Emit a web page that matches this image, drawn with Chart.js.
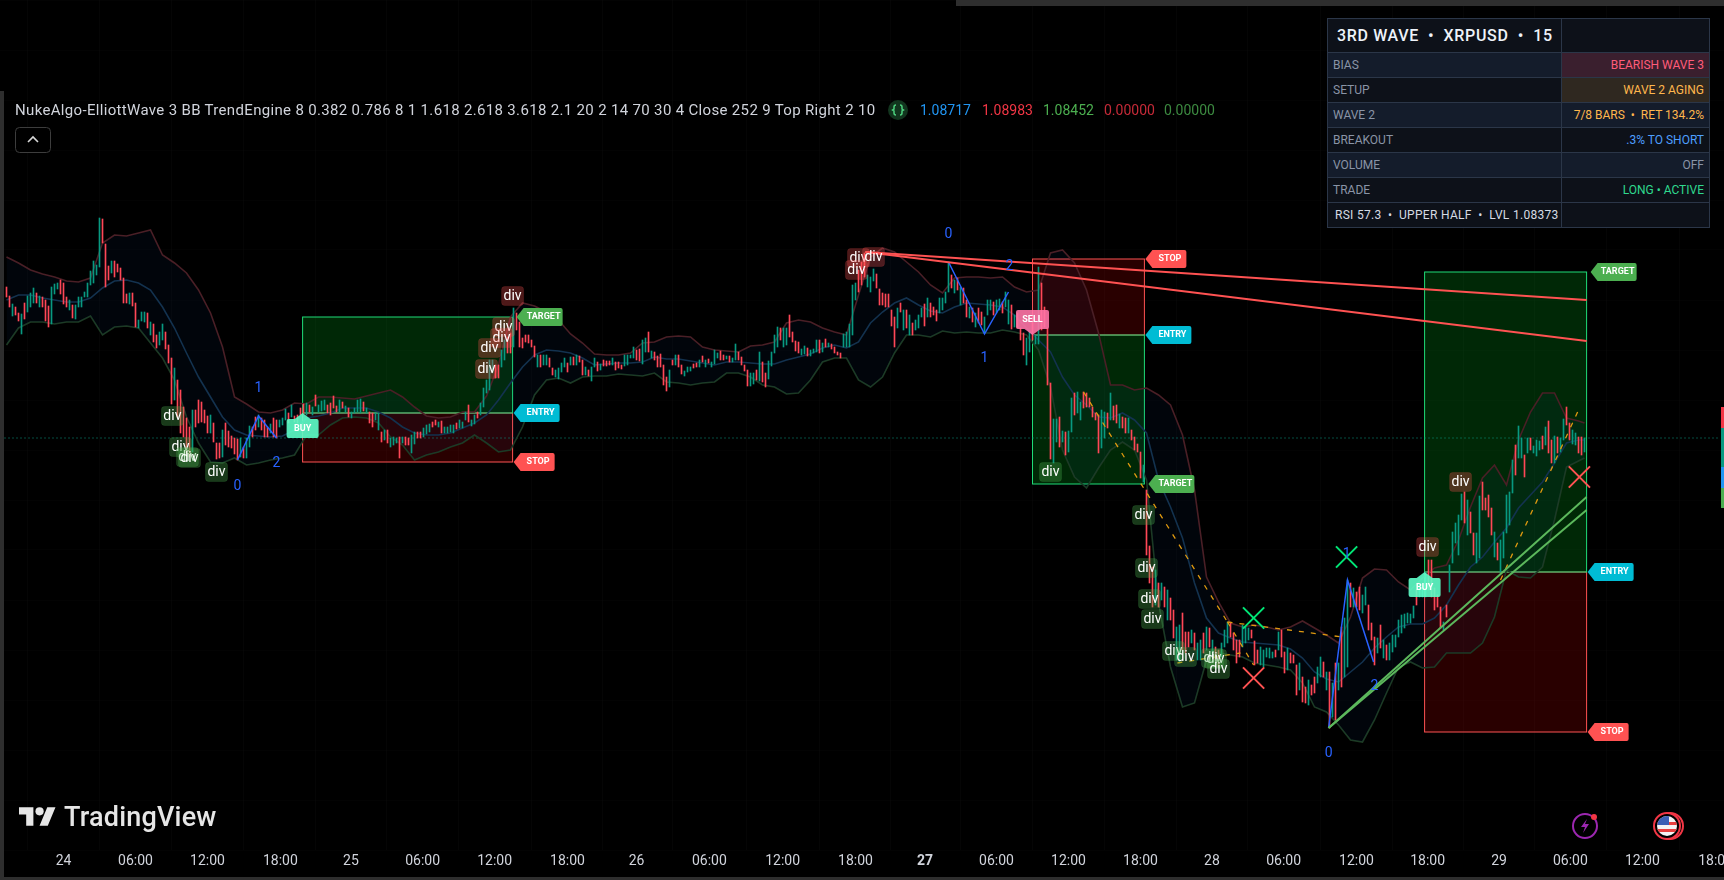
<!DOCTYPE html>
<html>
<head>
<meta charset="utf-8">
<title>XRPUSD 15</title>
<script src="https://cdn.jsdelivr.net/npm/chart.js@4"></script>
<style>
    html, body { margin: 0; padding: 0; background: #000; overflow: hidden; }
    body { width: 1724px; height: 880px; position: relative; font-family: Roboto, sans-serif; color: #d1d4dc; }
    canvas { position: absolute; left: 0; top: 0; }
    .abs { position: absolute; white-space: pre; }
    .strip { position: absolute; background: #2e2e2e; }
    .quote { position: absolute; top: 101px; font-size: 14px; line-height: 18px; }
    #panel { position: absolute; left: 1327px; top: 18px; width: 382px; border-collapse: collapse; table-layout: fixed; font-size: 12px; background: #0d1119; }
    #panel td { border: 1px solid #2b3648; padding: 0 5px; white-space: pre; overflow: hidden; height: 24px; color: #8a94a6; }
    #panel td.val { text-align: right; }
    #panel tr.alt td { background: #141c2b; }
    #panel tr.head td { height: 33px; font-size: 16px; font-weight: 500; color: #eef3fa; padding-left: 9px; letter-spacing: .65px; }
    #panel tr.foot td { color: #d6dbe4; padding-left: 7px; letter-spacing: .3px; }
</style>
</head>
<body>
<canvas id="chart" width="1724" height="880" style="width:1724px;height:880px"></canvas>

<div class="strip" style="left:956px;top:0;width:768px;height:6px"></div>
<div class="strip" style="left:0;top:91px;width:4px;height:789px"></div>
<div class="strip" style="left:0;top:877px;width:1724px;height:3px"></div>

<div class="abs" style="left:15px;top:100px;font-size:15px;line-height:20px;letter-spacing:.33px">NukeAlgo-ElliottWave 3 BB TrendEngine 8 0.382 0.786 8 1 1.618 2.618 3.618 2.1 20 2 14 70 30 4 Close 252 9 Top Right 2 10</div>
<svg class="abs" style="left:887px;top:99px" width="22" height="22" viewBox="0 0 22 22">
    <circle cx="11" cy="11" r="10" fill="#12351e"/>
    <path d="M9 6 Q7 6 7 8 V10 L5.5 11 L7 12 V14 Q7 16 9 16 M13 6 Q15 6 15 8 V10 L16.5 11 L15 12 V14 Q15 16 13 16" fill="none" stroke="#4cd07d" stroke-width="1.5"/>
</svg>
<div class="quote" style="left:920px;color:#2196f3">1.08717</div>
<div class="quote" style="left:982px;color:#f23645">1.08983</div>
<div class="quote" style="left:1043px;color:#4caf50">1.08452</div>
<div class="quote" style="left:1104px;color:#c62a38">0.00000</div>
<div class="quote" style="left:1164px;color:#3c8a40">0.00000</div>
<svg class="abs" style="left:15px;top:127px" width="36" height="26" viewBox="0 0 36 26">
    <rect x="0.5" y="0.5" width="35" height="25" rx="4" fill="#000" stroke="#3d3d3d"/>
    <path d="M13 15 L18 10 L23 15" fill="none" stroke="#d8d8d8" stroke-width="1.6"/>
</svg>

<table id="panel">
    <colgroup><col style="width:234px"><col style="width:148px"></colgroup>
    <tr class="head"><td>3RD WAVE  •  XRPUSD  •  15</td><td></td></tr>
    <tr class="alt"><td>BIAS</td><td class="val" style="background:#3a1f2e;color:#ff5c7a">BEARISH WAVE 3</td></tr>
    <tr><td>SETUP</td><td class="val" style="background:#2f2820;color:#ffb74d">WAVE 2 AGING</td></tr>
    <tr class="alt"><td>WAVE 2</td><td class="val" style="color:#ffb74d;padding-left:0">7/8 BARS  •  RET 134.2%</td></tr>
    <tr><td>BREAKOUT</td><td class="val" style="color:#4d9fff">.3% TO SHORT</td></tr>
    <tr class="alt"><td>VOLUME</td><td class="val">OFF</td></tr>
    <tr><td>TRADE</td><td class="val" style="color:#2fd98f">LONG • ACTIVE</td></tr>
    <tr class="foot"><td>RSI 57.3  •  UPPER HALF  •  LVL 1.08373</td><td></td></tr>
</table>

<svg class="abs" style="left:19px;top:807px" width="37" height="19" viewBox="0 4 36 18">
    <path d="M14 22H7V11H0V4h14v18z M28 22h-8l7.5-18h8L28 22z" fill="#e6e6e6"/>
    <circle cx="20" cy="8" r="4" fill="#e6e6e6"/>
</svg>
<div class="abs" style="left:64px;top:800px;font-size:27px;line-height:34px;font-weight:500;color:#e6e6e6;letter-spacing:.2px">TradingView</div>

<svg class="abs" style="left:1570px;top:811px" width="30" height="30" viewBox="0 0 30 30">
    <circle cx="15" cy="15" r="12" fill="none" stroke="#9c27b0" stroke-width="2"/>
    <path d="M17 8 L11 16 H15 L13 22 L19 13 H15 Z" fill="#9c27b0"/>
    <circle cx="24" cy="6" r="3" fill="#f23645"/>
</svg>
<svg class="abs" style="left:1652px;top:811px" width="34" height="30" viewBox="0 0 34 30">
    <circle cx="18" cy="15" r="13" fill="none" stroke="#f23645" stroke-width="2"/>
    <circle cx="15" cy="15" r="13" fill="#000" stroke="#f23645" stroke-width="2"/>
    <clipPath id="flag"><circle cx="15" cy="15" r="10"/></clipPath>
    <g clip-path="url(#flag)">
        <rect x="4" y="4" width="22" height="22" fill="#f4f4f4"/>
        <rect x="4" y="11" width="22" height="3" fill="#e8403f"/>
        <rect x="4" y="18" width="22" height="3" fill="#e8403f"/>
        <rect x="4" y="4" width="13" height="10" fill="#3a5fb5"/>
    </g>
</svg>

<div class="strip" style="left:1721px;top:407px;width:3px;height:21px;background:#f23645"></div>
<div class="strip" style="left:1721px;top:428px;width:3px;height:39px;background:#089981"></div>
<div class="strip" style="left:1721px;top:467px;width:3px;height:21px;background:#2196f3"></div>
<div class="strip" style="left:1721px;top:488px;width:3px;height:20px;background:#4caf50"></div>

<script>
// Price values are in points. x values are 15 minute bar numbers.
const tickBars = [19, 43, 67, 91.3, 114.8, 138.7, 162.7, 187, 210, 234.3, 258.7, 283, 306.2, 330, 354, 378, 401.8, 425.7, 450, 473.7, 497.5, 521.3, 545.3, 569.7];
const tickLabels = ['24', '06:00', '12:00', '18:00', '25', '06:00', '12:00', '18:00', '26', '06:00', '12:00', '18:00', '27', '06:00', '12:00', '18:00', '28', '06:00', '12:00', '18:00', '29', '06:00', '12:00', '18:00'];

const candleHigh = [
    713,704,696,693,687,686,697,704,707,712,707,704,703,700,694,713,716,717,720,717,703,700,695,695,703,703,708,717,729,739,735,782,781,756,734,739,739,736,732,722,706,707,707,697,680,688,688,687,678,676,665,668,676,668,655,642,632,620,610,593,582,573,590,590,600,598,590,584,585,577,557,557,570,577,569,564,562,561,562,553,562,574,573,583,585,582,580,573,576,582,580,580,582,591,587,595,584,585,
    592,596,597,595,593,605,595,599,600,595,597,604,594,600,598,594,592,588,592,600,601,598,592,588,587,587,587,568,570,570,562,563,562,563,563,563,562,565,568,568,568,572,575,576,578,580,578,579,573,573,575,575,577,580,578,588,595,580,585,588,597,612,620,640,640,635,635,650,660,663,667,692,687,678,662,665,665,660,654,645,645,645,645,642,632,630,632,637,642,637,643,643,645,644,640,633,630,
    633,642,638,636,640,639,639,642,638,638,635,645,645,645,653,650,651,660,662,668,649,648,644,646,635,623,630,640,645,645,635,629,633,633,636,637,640,644,640,641,638,650,647,649,645,644,644,642,656,648,643,635,630,627,627,630,648,638,627,639,648,665,673,672,672,672,685,668,659,658,651,654,652,650,651,660,660,657,661,657,656,653,648,647,
    666,668,676,715,717,730,738,747,725,723,731,726,711,707,706,706,690,683,692,697,690,690,685,677,680,685,692,696,702,697,693,690,702,702,708,738,725,720,722,713,712,700,693,692,687,692,688,683,700,700,698,700,701,698,708,700,695,685,687,672,667,662,668,677,665,733,717,693,672,617,581,581,583,569,568,569,602,607,608,598,608,607,602,593,587,585,590,588,587,607,594,595,586,583,582,582,570,563,556,548,535,
    510,454,433,430,417,417,413,410,402,390,373,375,387,368,368,370,367,357,360,367,373,372,360,353,350,357,370,378,377,367,360,360,375,373,372,370,359,350,353,350,352,352,348,350,368,370,348,352,347,345,335,337,323,313,320,315,323,333,343,338,328,328,317,337,337,373,382,420,417,412,408,413,405,413,395,377,363,362,375,360,355,357,365,365,380,385,386,387,386,394,410,413,413,428,440,440,412,405,393,378,395,
    435,468,477,485,506,508,500,488,467,467,504,518,502,505,492,468,457,460,468,505,508,540,555,574,562,545,562,562,554,560,559,564,573,579,560,564,563,562,581,593,577,570,567,563,563,562
];
const candleLow = [
    703,693,684,685,679,666,681,688,693,697,697,693,693,679,673,676,706,711,706,696,693,690,682,681,693,693,703,703,715,717,725,733,757,713,720,727,723,728,720,697,697,696,694,673,672,679,678,672,665,658,652,655,660,651,637,596,600,583,567,563,547,543,548,573,577,578,577,567,567,558,541,542,543,555,553,552,546,540,543,542,542,553,563,570,573,570,563,563,567,563,562,573,575,580,577,583,578,577,
    585,587,585,588,585,594,588,589,590,587,585,592,588,588,592,588,583,582,587,588,587,589,587,577,573,580,570,558,560,557,553,555,557,542,557,555,555,547,556,562,562,563,566,568,573,575,573,567,567,567,568,567,571,572,572,580,578,574,576,582,585,593,607,610,627,622,622,633,640,647,647,653,670,653,652,658,657,653,643,633,633,635,635,633,625,623,621,628,633,628,635,635,635,638,625,625,624,
    619,633,629,630,634,634,635,635,630,632,631,634,635,642,642,640,639,636,648,648,642,640,633,633,615,609,613,635,635,633,626,624,628,629,632,633,633,638,633,637,633,636,642,640,640,641,638,638,640,640,635,629,614,614,616,620,619,618,613,621,634,647,653,660,653,655,663,658,649,647,645,646,644,644,647,648,647,648,653,653,651,647,645,642,
    653,653,653,665,700,708,715,723,713,708,719,712,695,695,693,693,674,653,672,688,670,672,665,665,670,672,683,674,683,683,685,679,687,690,697,708,712,707,710,695,697,683,682,678,673,677,675,667,685,690,685,687,690,687,693,676,671,673,672,660,645,635,648,660,656,656,670,673,615,541,537,558,553,558,545,548,568,585,587,580,592,593,593,583,580,547,552,562,572,580,580,577,572,572,567,567,560,550,548,522,518,
    445,417,393,395,393,400,393,380,380,362,340,337,350,347,353,357,350,340,340,347,350,353,343,340,333,343,353,357,363,350,337,343,353,357,360,362,335,337,335,333,343,342,342,343,350,343,327,330,337,337,305,310,298,297,295,305,307,317,323,323,310,272,283,280,310,313,323,333,393,393,393,390,387,395,370,360,335,347,352,342,340,340,348,353,363,367,372,377,377,382,395,403,403,403,410,403,390,393,372,370,383,
    408,437,457,445,480,477,465,467,445,437,442,490,490,483,465,443,440,428,442,467,475,507,525,542,542,523,547,550,547,544,550,551,555,547,537,537,547,548,560,575,560,556,555,547,545,548
];
// u = up bar, d = down bar
const candleDir = [
    'ddudduduuu', 'duddduuudd', 'duduuuuuuu', 'uudddudddd', 'dudduuudud', 'duuddduddd', 'ddudddddud', 'ddudddddud', 'uuddudddud', 'duuududd',
    'ddududuuud', 'dddududuuu', 'ududduudud', 'uuududduud', 'duuudduduu', 'uuduuuduud', 'uuuuudduud', 'dudddddddu', 'duudduuuud', 'ududdud',
    'uududddudd', 'duuuudduud', 'udddddudud', 'duuuddudud', 'uuudduduud', 'ddduududdu', 'uuuduudddd', 'uuduuududu', 'dddd',
    'uuuuuddduu', 'udddddddud', 'ududuuudud', 'dduuuududu', 'ddududduuu', 'duuduududd', 'duuduudddd', 'uududuuduu', 'dddddduudu', 'dduddudddd', 'u',
    'dddudududd', 'uuddduduud', 'ududduuudd', 'dduuuddduu', 'uuududdudd', 'duddudduud', 'udududuudu', 'dduuddd', 'udu', 'duuuuuuuuu', 'duuudddddu', 'd',
    'uuuuududdu', 'udddduduuu', 'uuduududuu', 'ududduduud', 'duuddu'
].join('');

// Bollinger bands, one value every 4 bars
const bbUpper = [
    743,737,730,726,723,719,718,722,757,765,764,767,770,745,737,727,710,687,653,603,596,588,587,590,597,
    596,603,603,602,601,604,607,610,603,593,584,582,583,588,588,604,635,683,697,694,688,680,666,657,
    646,645,645,647,657,658,663,664,663,653,650,649,648,654,655,658,677,680,678,672,668,
    665,705,743,752,748,738,728,715,707,722,723,723,722,723,713,708,710,747,750,737,710,667,615,615,610,612,
    605,595,565,510,423,398,377,373,375,373,370,373,379,372,365,357,383,422,431,430,418,410,422,432,435,
    460,493,522,535,515,560,588,607,607,582,579,577
];
const bbBasis = [
    700,705,705,702,700,698,698,702,712,719,720,717,710,693,672,647,623,603,583,570,565,564,563,564,570,
    582,584,587,592,592,592,588,582,573,567,565,565,567,572,577,585,600,617,633,645,650,649,647,642,
    635,636,637,637,638,643,641,641,639,637,635,638,638,637,636,636,640,643,646,652,655,
    652,658,677,688,697,702,695,689,687,693,697,696,695,693,685,672,660,648,623,605,595,583,582,587,580,567,
    520,493,462,417,382,367,362,358,357,356,355,351,342,328,321,318,328,338,352,363,373,376,376,382,395,
    415,433,443,458,472,492,505,518,537,557,560,560
];
const bbLower = [
    655,672,678,678,676,678,678,684,665,673,674,672,657,642,620,583,557,538,537,542,535,537,540,542,545,
    565,565,575,582,583,582,577,563,555,540,545,548,553,557,565,557,548,550,573,605,620,622,617,623,
    624,624,626,625,624,627,618,617,615,617,618,627,627,623,615,613,606,607,620,638,642,
    642,620,613,623,647,665,665,663,669,667,668,667,667,670,668,665,650,613,550,523,512,532,550,558,550,520,
    397,333,293,297,340,347,345,343,337,335,333,330,317,293,288,275,260,258,280,307,333,338,332,333,347,
    347,347,357,383,430,423,422,433,480,533,539,542
];

const lastPrice = 562;

// Trade boxes: left and right bar, target, entry and stop
const boxLeft = [98.7, 342, 472.7];
const boxRight = [168.7, 379.3, 526.7];
const boxTarget = [683, 516, 728];
const boxEntry = [587, 665, 428];
const boxStop = [538, 741, 268];
const boxSignal = ['BUY', 'SELL', 'BUY'];

// div markers
const divBars = [55.3, 58, 60.3, 61, 70, 168.7, 165.7, 165, 161, 160, 284, 289, 283.3, 348, 379, 380, 381, 382, 389, 393, 402, 403, 404, 473.7, 484.7];
const divPrices = [584, 553, 543, 542, 528, 704, 673, 662, 652, 631, 742, 743, 730, 528, 485, 432, 401, 381, 349, 343, 342, 341, 331, 453, 518];
const divBear = [0, 0, 0, 0, 0, 1, 1, 1, 1, 1, 1, 1, 1, 0, 0, 0, 0, 0, 0, 0, 0, 0, 0, 1, 1];

// Wave swings and their numbers
const waveBars = [[77, 84, 90], [314, 326, 334], [440.7, 447, 455.7]];
const wavePrices = [[540, 584, 562], [738, 666, 708], [272, 420, 338]];
const waveNumberBars = [77, 84, 90, 314, 326, 334.3, 440.7, 446.7, 456];
const waveNumberPrices = [514, 612, 537, 766, 642, 734, 247, 446, 314];
const waveNumbers = ['0', '1', '2', '0', '1', '2', '0', '1', '2'];

// Trend lines
const redLineBars = [286.3, 526.7];
const redLineA = [748, 700];
const redLineB = [748, 659];
const greenLineBars = [440.7, 526.7];
const greenLineA = [272, 503];
const greenLineB = [272, 490];

// Dashed projections
const dashBars = [[359, 407], [407, 445.3], [407, 415.7], [390.3, 411.3], [498, 523.7]];
const dashPrices = [[608, 378], [378, 363], [378, 335], [337, 347], [420, 588]];

// X marks
const greenCrossBars = [415.7, 446.7];
const greenCrossPrices = [382, 443];
const redCrossBars = [415.7, 524.3];
const redCrossPrices = [322, 523];

function pairs(xs, ys) {
    return xs.map((x, i) => ({ x: x, y: ys[i] }));
}

function lineSet(points, color, width, extra) {
    return Object.assign({
        type: 'line',
        data: points,
        borderColor: color,
        borderWidth: width,
        pointRadius: 0,
        tension: 0,
        fill: false,
        order: 1
    }, extra || {});
}

const lastBar = candleHigh.length - 1;
const bandPoints = values => values.map((y, m) => ({ x: Math.min(m * 4, lastBar), y: y }));

const datasets = [
    {
        type: 'bar',
        data: candleHigh.map((h, i) => ({ x: i, y: [candleLow[i], h] })),
        backgroundColor: candleHigh.map((h, i) => candleDir[i] === 'u' ? '#089981' : '#ff4757'),
        barThickness: 1,
        order: 3
    },
    lineSet(bandPoints(bbUpper), '#4a1f26', 1.6, { fill: '+1', backgroundColor: 'rgba(20,90,220,0.05)', order: 5 }),
    lineSet(bandPoints(bbLower), '#1d3a22', 1.6, { order: 5 }),
    lineSet(bandPoints(bbBasis), '#13324f', 1.6, { order: 4 }),
    lineSet(pairs([-2, 571], [lastPrice, lastPrice]), '#089981', 1, { borderDash: [1, 3], order: 6 }),
    lineSet(pairs(redLineBars, redLineA), '#ff5252', 2),
    lineSet(pairs(redLineBars, redLineB), '#ff5252', 2),
    lineSet(pairs(greenLineBars, greenLineA), '#5cb85c', 2),
    lineSet(pairs(greenLineBars, greenLineB), '#5cb85c', 2)
];

waveBars.forEach((bars, i) => {
    datasets.push(lineSet(pairs(bars, wavePrices[i]), '#2962ff', 1.5, { order: 2 }));
});
dashBars.forEach((bars, i) => {
    datasets.push(lineSet(pairs(bars, dashPrices[i]), '#e09a10', 1.3, { borderDash: [5, 7], order: 2 }));
});

[[greenCrossBars, greenCrossPrices, '#00e676'], [redCrossBars, redCrossPrices, '#ff5252']].forEach(mark => {
    datasets.push({
        type: 'scatter',
        data: pairs(mark[0], mark[1]),
        pointStyle: 'crossRot',
        pointRadius: 15,
        pointBorderColor: mark[2],
        pointBorderWidth: 2,
        pointBackgroundColor: 'transparent',
        order: 1
    });
});

function roundedRect(ctx, x, y, w, h, r) {
    ctx.beginPath();
    ctx.roundRect(x, y, w, h, r);
}

// Price tag with a point on its left side
function drawTag(ctx, tipX, y, width, color, text) {
    const h = 18;
    ctx.fillStyle = color;
    ctx.beginPath();
    ctx.moveTo(tipX, y);
    ctx.lineTo(tipX + 7, y - h / 2);
    ctx.lineTo(tipX + width - 2, y - h / 2);
    ctx.quadraticCurveTo(tipX + width, y - h / 2, tipX + width, y - h / 2 + 2);
    ctx.lineTo(tipX + width, y + h / 2 - 2);
    ctx.quadraticCurveTo(tipX + width, y + h / 2, tipX + width - 2, y + h / 2);
    ctx.lineTo(tipX + 7, y + h / 2);
    ctx.closePath();
    ctx.fill();
    ctx.fillStyle = '#fff';
    ctx.font = 'bold 9px Roboto';
    ctx.textAlign = 'center';
    ctx.textBaseline = 'middle';
    ctx.fillText(text, tipX + 4 + width / 2, y);
}

// BUY or SELL flag pointing at the entry level
function drawSignal(ctx, x0, yEntry, signal) {
    const isBuy = signal === 'BUY';
    const dir = isBuy ? 1 : -1;
    const flagW = isBuy ? 32 : 33;
    ctx.globalAlpha = 0.9;
    ctx.fillStyle = isBuy ? '#5dffc9' : '#ff74a6';
    ctx.beginPath();
    ctx.moveTo(x0, yEntry);
    ctx.lineTo(x0 + 8, yEntry + dir * 6);
    ctx.lineTo(x0 - 8, yEntry + dir * 6);
    ctx.closePath();
    ctx.fill();
    roundedRect(ctx, x0 - flagW / 2, isBuy ? yEntry + 6 : yEntry - 25, flagW, 19, 2);
    ctx.fill();
    ctx.globalAlpha = 1;
    ctx.fillStyle = '#fff';
    ctx.font = 'bold 9px Roboto';
    ctx.textAlign = 'center';
    ctx.textBaseline = 'middle';
    ctx.fillText(signal, x0, isBuy ? yEntry + 15.5 : yEntry - 15.5);
}

const tradeBoxes = {
    id: 'tradeBoxes',
    beforeDatasetsDraw(chart) {
        const ctx = chart.ctx;
        const x = chart.scales.x;
        const y = chart.scales.y;
        ctx.save();
        boxLeft.forEach((left, i) => {
            const x0 = x.getPixelForValue(left);
            const x1 = x.getPixelForValue(boxRight[i]);
            const yTarget = y.getPixelForValue(boxTarget[i]);
            const yEntry = y.getPixelForValue(boxEntry[i]);
            const yStop = y.getPixelForValue(boxStop[i]);

            ctx.lineWidth = 1;
            ctx.fillStyle = 'rgba(255,0,0,0.16)';
            ctx.strokeStyle = '#ff5252';
            ctx.fillRect(x0, yEntry, x1 - x0, yStop - yEntry);
            ctx.strokeRect(x0, yEntry, x1 - x0, yStop - yEntry);
            ctx.fillStyle = 'rgba(0,200,30,0.2)';
            ctx.strokeStyle = '#1fdc78';
            ctx.fillRect(x0, yTarget, x1 - x0, yEntry - yTarget);
            ctx.strokeRect(x0, yTarget, x1 - x0, yEntry - yTarget);
        });
        ctx.restore();
    },
    afterDatasetsDraw(chart) {
        const ctx = chart.ctx;
        const x = chart.scales.x;
        const y = chart.scales.y;
        ctx.save();
        boxRight.forEach((right, i) => {
            const tip = x.getPixelForValue(right) + 1;
            drawSignal(ctx, x.getPixelForValue(boxLeft[i]), y.getPixelForValue(boxEntry[i]), boxSignal[i]);
            drawTag(ctx, tip + 3, y.getPixelForValue(boxTarget[i]), 46, '#4caf50', 'TARGET');
            drawTag(ctx, tip, y.getPixelForValue(boxEntry[i]), 46, '#00bcd4', 'ENTRY');
            drawTag(ctx, tip, y.getPixelForValue(boxStop[i]), 41, '#ff5252', 'STOP');
        });

        divBars.forEach((bar, i) => {
            const px = x.getPixelForValue(bar);
            const py = y.getPixelForValue(divPrices[i]);
            const bear = divBear[i] === 1;
            roundedRect(ctx, px - 11, py - 9.5, 22, 19, 3);
            ctx.fillStyle = bear ? 'rgba(255,82,82,0.3)' : 'rgba(76,175,80,0.33)';
            ctx.fill();
            ctx.strokeStyle = bear ? 'rgba(255,82,82,0.12)' : 'rgba(76,175,80,0.15)';
            ctx.lineWidth = 1;
            ctx.stroke();
            ctx.fillStyle = '#fff';
            ctx.font = '14px Roboto';
            ctx.textAlign = 'center';
            ctx.textBaseline = 'middle';
            ctx.fillText('div', px, py);
        });

        ctx.fillStyle = '#2962ff';
        ctx.font = '14px Roboto';
        ctx.textAlign = 'center';
        ctx.textBaseline = 'middle';
        waveNumbers.forEach((n, i) => {
            ctx.fillText(n, x.getPixelForValue(waveNumberBars[i]), y.getPixelForValue(waveNumberPrices[i]));
        });
        ctx.restore();
    }
};

new Chart(document.getElementById('chart').getContext('2d'), {
    type: 'bar',
    data: { datasets: datasets },
    plugins: [tradeBoxes],
    options: {
        responsive: false,
        devicePixelRatio: 1,
        animation: false,
        layout: { padding: 0, autoPadding: false },
        plugins: { legend: { display: false }, tooltip: { enabled: false } },
        scales: {
            x: {
                type: 'linear',
                min: -2.1667,
                max: 572.5,
                offset: false,
                border: { display: false },
                grid: { color: 'rgba(255,255,255,0.02)', drawTicks: false },
                afterBuildTicks: axis => { axis.ticks = tickBars.map(v => ({ value: v })); },
                afterFit: axis => { axis.height = 30; axis.paddingLeft = 0; axis.paddingRight = 0; },
                ticks: {
                    autoSkip: false,
                    maxRotation: 0,
                    padding: 3,
                    color: '#d1d4dc',
                    font: ctx => ({ family: 'Roboto', size: 14, weight: tickLabels[ctx.index] === '27' ? 'bold' : 'normal' }),
                    callback: (value, index) => tickLabels[index]
                }
            },
            y: {
                min: 150,
                max: 1000,
                border: { display: false },
                grid: { color: 'rgba(255,255,255,0.012)', drawTicks: false },
                afterFit: axis => { axis.width = 0; },
                ticks: { display: false, stepSize: 50 }
            }
        }
    }
});
</script>
</body>
</html>
